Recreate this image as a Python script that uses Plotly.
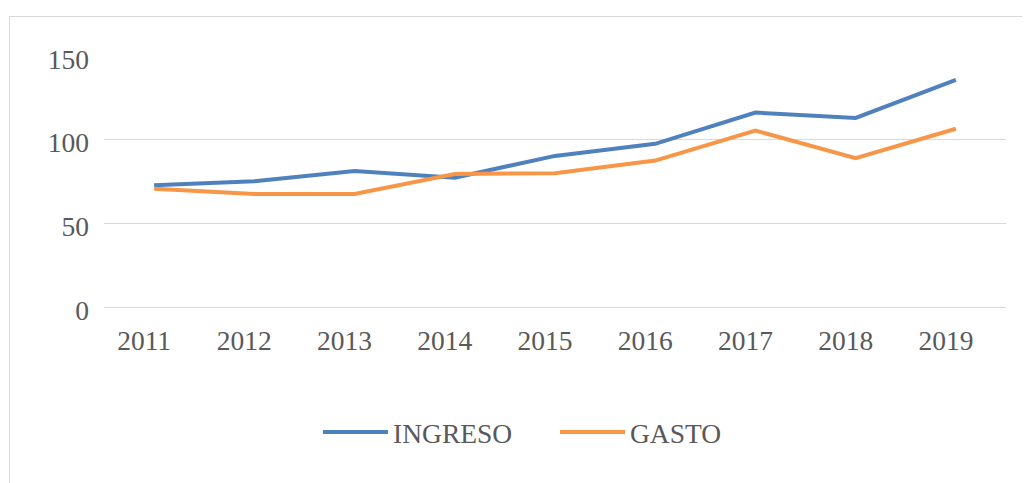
import plotly.graph_objects as go

years = ["2011", "2012", "2013", "2014", "2015", "2016", "2017", "2018", "2019"]
ingreso = [72.8, 75.2, 81.3, 77.3, 90.3, 97.5, 116.2, 113.0, 135.8]
gasto = [70.6, 67.6, 67.6, 79.5, 80.0, 87.5, 105.4, 88.9, 106.5]
series_names = ["INGRESO", "GASTO"]
colors = ["#4F81BD", "#F79646"]

# page body has an 8px margin; work in screen pixels and convert
OFF = 8
W, H = 1030 - OFF, 483 - OFF
L, R, T, B = 104 - OFF, 1030 - 1006, 56 - OFF, 483 - 307
pw, ph = W - L - R, H - T - B

fig = go.Figure()
for name, vals, col in zip(series_names, [ingreso, gasto], colors):
    fig.add_trace(go.Scatter(x=years, y=vals, name=name, mode="lines",
                             line=dict(color=col, width=4)))

def px_x(p):  # screen px -> paper
    return (p - OFF - L) / pw

def px_y(p):
    return (H - B - (p - OFF)) / ph

fig.add_shape(type="rect", xref="paper", yref="paper",
              x0=px_x(9.5), x1=px_x(1045), y0=px_y(500), y1=px_y(16.5),
              line=dict(color="#D9D9D9", width=1), fillcolor="rgba(0,0,0,0)", layer="below")

font = dict(family="Liberation Serif, Times New Roman, serif", size=27.5, color="#595959")

fig.update_layout(
    width=W, height=H,
    margin=dict(l=L, r=R, t=T, b=B, autoexpand=False),
    paper_bgcolor="white", plot_bgcolor="white",
    font=font,
    showlegend=True,
    legend=dict(orientation="h", x=px_x(318), xanchor="left", y=px_y(432), yanchor="middle",
                font=font, itemwidth=65, tracegroupgap=0, bgcolor="rgba(0,0,0,0)",
                entrywidth=157, entrywidthmode="pixels"),
    xaxis=dict(range=[-0.5, 8.5], showgrid=False, zeroline=False, showline=False, ticks="",
               tickfont=font, ticklabelstandoff=14, ticklabelshift=-10, automargin=False),
    yaxis=dict(range=[0, 150], tickvals=[0, 50, 100, 150], showgrid=True,
               gridcolor="#D9D9D9", gridwidth=1, zeroline=True, zerolinecolor="#D9D9D9",
               zerolinewidth=1, showline=False, automargin=False,
               ticks="", tickfont=font, ticklabelstandoff=14, ticklabelshift=3),
)

fig.write_html("out.html")
